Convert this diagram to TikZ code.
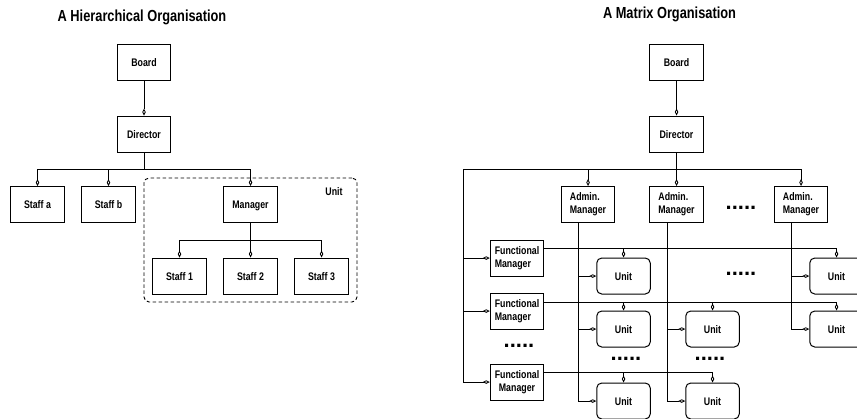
\documentclass[tikz,border=0pt]{standalone}
\usepackage{fontspec}
\setmainfont{Liberation Sans}[FakeStretch=0.8]
\newfontfamily\dotfont{Liberation Sans}
\usetikzlibrary{arrows.meta,calc}
\tikzset{
  box/.style={draw, line width=1pt, minimum width=53.5pt, minimum height=36pt, inner sep=0pt,
    font=\fontsize{11}{13}\selectfont\bfseries},
  sbox/.style={box, text height=8pt, text depth=0pt},
  ubox/.style={sbox, rounded corners=5pt},
  tbox/.style={box, align=left},
  titletext/.style={inner sep=0pt, font=\fontsize{16}{19}\selectfont\bfseries},
  lbl/.style={inner sep=0pt, font=\fontsize{11}{13}\selectfont\bfseries},
  dots/.style={inner sep=0pt, font=\dotfont\fontsize{22}{22}\selectfont\bfseries},
  line/.style={line width=0.9pt},
  conn/.style={line width=0.9pt, -{Diamond[open,length=7pt,width=3.5pt,line width=0.8pt]}},
  unitframe/.style={draw, line width=0.9pt, dash pattern=on 3.5pt off 2.5pt, rounded corners=5pt,
    minimum width=213pt, minimum height=124pt, inner sep=0pt}
}
\begin{document}
\begin{tikzpicture}[x=1pt,y=-1pt]
\useasboundingbox (0,0) rectangle (857,418);
\clip (0,0) rectangle (857,418);

% ---------- Hierarchical ----------
\node[titletext, anchor=base] (t1) at (142,21) {A Hierarchical Organisation};
\node[unitframe] (unitframe) at (250.5,240) {};
\node[lbl] (unitlbl) at (334,192) {Unit};
\node[sbox] (boardL) at (144,62) {Board};
\node[sbox] (dirL) at (144,134) {Director};
\node[sbox] (staffa) at (37.5,204.5) {Staff a};
\node[sbox] (staffb) at (108.5,204.5) {Staff b};
\node[sbox] (mgr) at (250.5,204.5) {Manager};
\node[sbox] (s1) at (179.5,276) {Staff 1};
\node[sbox] (s2) at (250.5,276) {Staff 2};
\node[sbox] (s3) at (321.5,276) {Staff 3};

\coordinate (busL) at (144,169);
\coordinate (busM) at (250.5,240);
\draw[conn] (boardL) -- (dirL);
\draw[line] (dirL) -- (busL);
\draw[conn] (busL) -| (staffa.north);
\draw[conn] (busL) -| (staffb.north);
\draw[conn] (busL) -| (mgr.north);
\draw[line] (mgr) -- (busM);
\draw[conn] (busM) -| (s1.north);
\draw[conn] (busM) -- (s2);
\draw[conn] (busM) -| (s3.north);

% ---------- Matrix ----------
\node[titletext, anchor=base] (t2) at (669.5,18.5) {A Matrix Organisation};
\node[sbox] (boardR) at (676.5,62) {Board};
\node[sbox] (dirR) at (676.5,134) {Director};
\node[tbox] (am1) at (588,204.5) {Admin.\\Manager};
\node[tbox] (am2) at (676.5,204.5) {Admin.\\Manager};
\node[tbox] (am3) at (801,204.5) {Admin.\\Manager};
\node[tbox] (fm1) at (517,258) {Functional\\Manager};
\node[tbox] (fm2) at (517,311) {Functional\\Manager};
\node[box, align=center] (fm3) at (517,382) {Functional\\Manager};

\node[ubox] (u11) at (623.5,276) {Unit};
\node[ubox] (u1r) at (836.5,276) {Unit};
\node[ubox] (u21) at (623.5,329) {Unit};
\node[ubox] (u22) at (712.5,329) {Unit};
\node[ubox] (u2r) at (836.5,329) {Unit};
\node[ubox] (u31) at (623.5,401) {Unit};
\node[ubox] (u32) at (712.5,401) {Unit};

\node[dots, anchor=base] (d1) at (741,209.5) {.....};
\node[dots, anchor=base] (d2) at (741,275.5) {.....};
\node[dots, anchor=base] (d3) at (519,347) {.....};
\node[dots, anchor=base] (d4) at (626,360) {.....};
\node[dots, anchor=base] (d5) at (710,360) {.....};

\coordinate (busR) at (676.5,169);
\coordinate (busRL) at (463,169);
\draw[conn] (boardR) -- (dirR);
\draw[line] (dirR) -- (busR);
\draw[conn] (busR) -| (am1.north);
\draw[conn] (busR) -- (am2);
\draw[conn] (busR) -| (am3.north);
\draw[line] (busR) -- (busRL);
\draw[conn] (busRL) |- (fm1.west);
\draw[conn] (busRL) |- (fm2.west);
\draw[conn] (busRL) |- (fm3.west);

\coordinate (h1) at ($(fm1.north east)+(0,9)$);
\coordinate (h2) at ($(fm2.north east)+(0,10)$);
\coordinate (h3) at ($(fm3.north east)+(0,9)$);
\draw[conn] (h1) -| (u1r.north);
\draw[conn] (u11.north |- h1) -- (u11.north);
\draw[conn] (h2) -| (u2r.north);
\draw[conn] (u21.north |- h2) -- (u21.north);
\draw[conn] (u22.north |- h2) -- (u22.north);
\draw[conn] (h3) -| (u32.north);
\draw[conn] (u31.north |- h3) -- (u31.north);

\coordinate (v1) at ($(am1.south west)+(18,0)$);
\coordinate (v2) at ($(am2.south west)+(18,0)$);
\coordinate (v3) at ($(am3.south west)+(18,0)$);
\draw[conn] (v1) |- (u11.west);
\draw[conn] (v1) |- (u21.west);
\draw[conn] (v1) |- (u31.west);
\draw[conn] (v2) |- (u22.west);
\draw[conn] (v2) |- (u32.west);
\draw[conn] (v3) |- (u1r.west);
\draw[conn] (v3) |- (u2r.west);
\end{tikzpicture}
\end{document}
